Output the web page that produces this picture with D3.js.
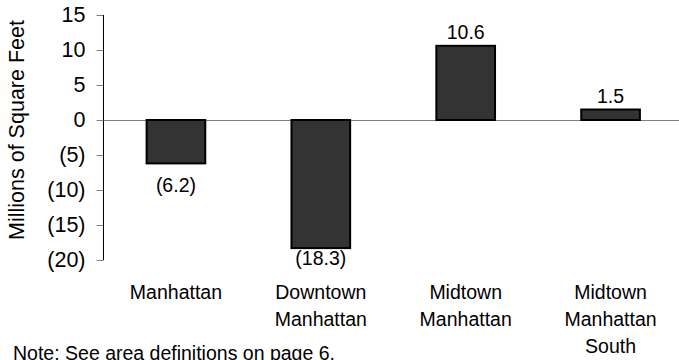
<!DOCTYPE html>
<html>
<head>
<meta charset="utf-8">
<script src="https://cdn.jsdelivr.net/npm/d3@7"></script>
<style>
  html, body { margin: 0; padding: 0; background: #ffffff; }
  svg { display: block; font-family: "Liberation Sans", Arial, sans-serif; }
</style>
</head>
<body>
<svg id="chart" width="679" height="360"></svg>
<script>
// Net change in office inventory, millions of square feet
const categories = [
  ["Manhattan"],
  ["Downtown", "Manhattan"],
  ["Midtown", "Manhattan"],
  ["Midtown", "Manhattan", "South"]
];
const values = [-6.2, -18.3, 10.6, 1.5];
const valueLabels = ["(6.2)", "(18.3)", "10.6", "1.5"];
const yTicks = [15, 10, 5, 0, -5, -10, -15, -20];
const yTickLabels = ["15", "10", "5", "0", "(5)", "(10)", "(15)", "(20)"];
const yTitle = "Millions of Square Feet";
const note = "Note: See area definitions on page 6.";

const svg = d3.select("#chart");
const textSize = 19.5;
const axisSize = 21.5;

const plot = { left: 103.5, right: 683, top: 15, bottom: 260 };

const y = d3.scaleLinear().domain([-20, 15]).range([plot.bottom, plot.top]);
const x = d3.scaleBand()
  .domain(d3.range(categories.length))
  .range([plot.left, plot.right])
  .paddingInner(0.595)
  .paddingOuter(0.2975);

// Y axis with parenthesised negatives
const yAxis = d3.axisLeft(y)
  .tickValues(yTicks)
  .tickFormat((d, i) => yTickLabels[i])
  .tickSize(7)
  .tickPadding(11);

const gy = svg.append("g")
  .attr("transform", `translate(${plot.left},0)`)
  .call(yAxis);
gy.select(".domain").remove();
gy.selectAll(".tick line").attr("stroke", "#808080").attr("stroke-width", 1);
gy.selectAll(".tick text")
  .attr("fill", "#000")
  .attr("font-size", axisSize)
  .attr("font-family", "Liberation Sans, Arial, sans-serif");
gy.append("line")
  .attr("x1", 0).attr("x2", 0)
  .attr("y1", y(15)).attr("y2", y(-20))
  .attr("stroke", "#000").attr("stroke-width", 1);

// Zero baseline
svg.append("line")
  .attr("x1", plot.left).attr("x2", 679)
  .attr("y1", Math.round(y(0)) + 0.5).attr("y2", Math.round(y(0)) + 0.5)
  .attr("stroke", "#808080").attr("stroke-width", 1);

// Bars
svg.append("g").selectAll("rect")
  .data(values)
  .join("rect")
  .attr("x", (d, i) => x(i))
  .attr("width", x.bandwidth())
  .attr("y", d => y(Math.max(0, d)))
  .attr("height", d => Math.abs(y(d) - y(0)))
  .attr("fill", "#333333")
  .attr("stroke", "#000")
  .attr("stroke-width", 2);

// Value labels
svg.append("g").selectAll("text")
  .data(values)
  .join("text")
  .attr("x", (d, i) => x(i) + x.bandwidth() / 2)
  .attr("y", d => d >= 0 ? y(d) - 7 : Math.min(y(d) + 29, y(-20) + 5))
  .attr("text-anchor", "middle")
  .attr("font-size", textSize)
  .attr("fill", "#000")
  .text((d, i) => valueLabels[i]);

// Category labels
const cat = svg.append("g").selectAll("text")
  .data(categories)
  .join("text")
  .attr("x", (d, i) => x(i) + x.bandwidth() / 2)
  .attr("y", 299)
  .attr("text-anchor", "middle")
  .attr("font-size", textSize)
  .attr("fill", "#000");
cat.selectAll("tspan")
  .data((d, i) => d.map(line => ({ line, i })))
  .join("tspan")
  .attr("x", d => x(d.i) + x.bandwidth() / 2)
  .attr("dy", (d, j) => j === 0 ? 0 : 27)
  .text(d => d.line);

// Y axis title
svg.append("text")
  .attr("transform", "translate(24,130) rotate(-90)")
  .attr("text-anchor", "middle")
  .attr("font-size", axisSize)
  .attr("fill", "#000")
  .text(yTitle);

// Footnote
svg.append("text")
  .attr("x", 13)
  .attr("y", 360)
  .attr("font-size", textSize)
  .attr("fill", "#000")
  .text(note);
</script>
</body>
</html>
